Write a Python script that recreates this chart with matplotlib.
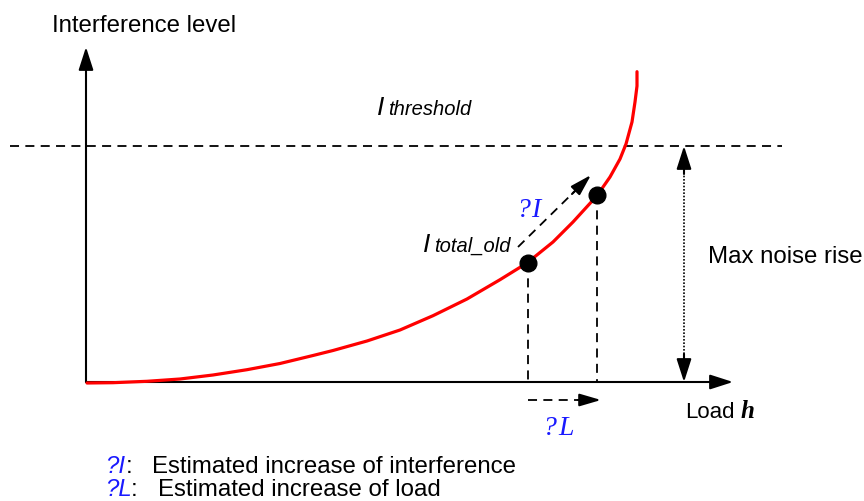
import matplotlib.pyplot as plt
import matplotlib as mpl

mpl.rcParams['font.family'] = ['Liberation Sans', 'DejaVu Sans']

# curve (x = load, y = interference, pixel-like units, y down)
curve_x = [87, 113, 147, 180, 213, 247, 280, 313, 333, 367, 400, 433, 467,
           500, 527, 553, 573, 597, 610, 620, 626, 632, 635, 637, 637]
curve_y = [384, 383.7, 382.3, 380, 376, 370.7, 364.5, 356.5, 351.5, 342, 331,
           316.7, 300, 280.7, 264, 243, 223, 196.7, 178, 160, 145, 123,
           103, 87, 72.7]

old_point = (528, 264)
new_point = (597, 196)
origin = (86, 383)
threshold_y = 147
blue = '#1a1aff'
fs = 17.3

fig = plt.figure(figsize=(8.64, 5.02), dpi=100)
ax = fig.add_axes([0, 0, 1, 1])
ax.set_xlim(0, 864)
ax.set_ylim(502, 0)
ax.axis('off')


def head(x0, y0, x1, y1, hl=1.4, hw=0.45):
    ax.annotate('', xy=(x1, y1), xytext=(x0, y0),
                arrowprops=dict(arrowstyle=f'-|>,head_length={hl},head_width={hw}',
                                color='black', lw=1.5, mutation_scale=10,
                                shrinkA=0, shrinkB=0))


dash = (0, (5, 3.5))

# axes
head(origin[0], origin[1], origin[0], 48)
head(origin[0], origin[1], 733, origin[1])

# threshold
ax.plot([10, 782], [threshold_y, threshold_y], color='black', lw=1.3, ls=dash)

# max noise rise (dotted, double head)
ax.plot([684, 684], [160, 370], color='black', lw=1.2, ls=(0, (1, 1)))
head(684, 175, 684, threshold_y)
head(684, 355, 684, origin[1])

# curve
ax.plot(curve_x, curve_y, color='red', lw=2.3, zorder=3,
        solid_joinstyle='round', solid_capstyle='round')

# drop lines
for px, py in [old_point, new_point]:
    ax.plot([px, px], [py, origin[1]], color='black', lw=1.3, ls=dash)
ax.plot([old_point[0], new_point[0]], [old_point[1], new_point[1]], 'o',
        color='black', ms=12, zorder=4)

# delta I arrow
ax.plot([518, 578], [248, 189], color='black', lw=1.3, ls=dash)
head(572, 195, 591, 176, hl=1.3, hw=0.38)
# delta L arrow
ax.plot([528, 585], [401, 401], color='black', lw=1.3, ls=dash)
head(578, 401, 601, 401, hl=1.3, hw=0.38)

# labels
ax.text(52, 32, 'Interference level', fontsize=fs, va='baseline')
ax.text(377, 115, 'I', fontsize=19, style='italic', va='baseline')
ax.text(388, 115, 'threshold', fontsize=14.5, style='italic', va='baseline')
ax.text(423, 252, 'I', fontsize=19, style='italic', va='baseline')
ax.text(434, 252, 'total_old', fontsize=14.5, style='italic', va='baseline')
ax.text(516, 217, '?', fontsize=20, family='Liberation Serif', style='italic',
        color=blue, va='baseline')
ax.text(531, 217, 'I', fontsize=20, family='Liberation Serif', style='italic',
        color=blue, va='baseline')
ax.text(542, 435, '?', fontsize=20, family='Liberation Serif', style='italic',
        color=blue, va='baseline')
ax.text(558, 435, 'L', fontsize=20, family='Liberation Serif', style='italic',
        color=blue, va='baseline')
ax.text(685, 418, 'Load', fontsize=16, va='baseline')
ax.text(741, 418, 'h', fontsize=18, family='Liberation Serif', style='italic',
        weight='bold', va='baseline')
ax.text(708, 263, 'Max noise rise', fontsize=fs, va='baseline')

# footnotes
ax.text(105, 473, '?I', fontsize=fs, style='italic', color=blue, va='baseline')
ax.text(126, 473, ':', fontsize=fs, va='baseline')
ax.text(152, 473, 'Estimated increase of interference', fontsize=fs, va='baseline')
ax.text(105, 496, '?L', fontsize=fs, style='italic', color=blue, va='baseline')
ax.text(131, 496, ':', fontsize=fs, va='baseline')
ax.text(158, 496, 'Estimated increase of load', fontsize=fs, va='baseline')

fig.savefig('out.png', dpi=100)
